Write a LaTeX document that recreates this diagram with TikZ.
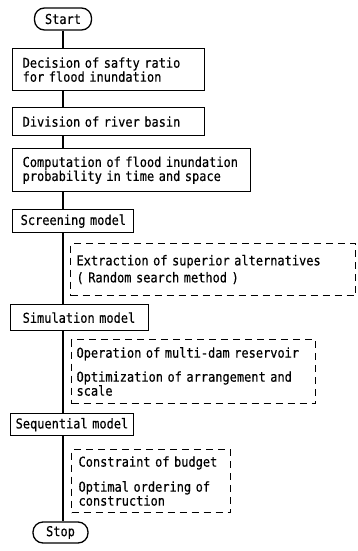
\documentclass[tikz,border=0pt]{standalone}
\usepackage{fontspec}
\newfontfamily\flowfont[FakeStretch=0.88,FakeBold=0.4]{DejaVu Sans Mono}
\begin{document}
\begin{tikzpicture}[x=1pt,y=-1pt,
  font=\flowfont\fontsize{13.6}{14}\selectfont,
  box/.style={draw, line width=1.3pt, anchor=north west, align=left, inner ysep=0pt},
  dbox/.style={draw, line width=1.1pt, dash pattern=on 7pt off 5pt, anchor=north west, align=left, inner ysep=0pt},
  term/.style={draw, line width=1.3pt, rounded corners=10pt, inner sep=0pt},
  flow/.style={line width=1.3pt}]
\useasboundingbox (0,0) rectangle (358,551);
\node[term, minimum width=57pt, minimum height=22pt] (start) at (63,19) {Start};
\node[box, minimum height=42pt, text width=172pt, inner xsep=10pt] (b1) at (12,48) {Decision~of~safty~ratio\\for~flood~inundation};
\node[box, minimum height=28pt, text width=172pt, inner xsep=10pt] (b2) at (12,107) {Division~of~river~basin};
\node[box, minimum height=43pt, text width=218pt, inner xsep=10pt] (b3) at (12,148) {Computation~of~flood~inundation\\probability~in~time~and~space};
\node[box, minimum height=23pt, text width=105pt, inner xsep=8pt] (screen) at (12,209) {Screening~model};
\node[dbox, minimum height=52pt, text width=273pt, inner xsep=6pt] (d1) at (70,243) {Extraction~of~superior~alternatives\\[3pt]( Random~search~method~)};
\node[box, minimum height=26pt, text width=114pt, inner xsep=12pt] (sim) at (10,304) {Simulation~model};
\node[dbox, minimum height=64pt, text width=234pt, inner xsep=5pt] (d2) at (71,339) {Operation~of~multi-dam~reservoir\\[10pt]Optimization~of~arrangement~and\\scale};
\node[box, minimum height=22pt, text width=113pt, inner xsep=5pt] (seq) at (10,413) {Sequential~model};
\node[dbox, minimum height=63pt, text width=145pt, inner xsep=7pt] (d3) at (71,449) {Constraint~of~budget\\[11pt]Optimal~ordering~of\\construction};
\node[term, minimum width=55pt, minimum height=21pt] (stop) at (60.5,532.5) {Stop};
\draw[flow] (start.south) -- (start.south |- b1.north);
\draw[flow] (b1.south -| start) -- (b2.north -| start);
\draw[flow] (b2.south -| start) -- (b3.north -| start);
\draw[flow] (b3.south -| start) -- (screen.north -| start);
\draw[flow] (screen.south -| start) -- (sim.north -| start);
\draw[flow] (sim.south -| start) -- (seq.north -| start);
\draw[flow] (seq.south -| start) -- (stop.north -| start);
\end{tikzpicture}
\end{document}
